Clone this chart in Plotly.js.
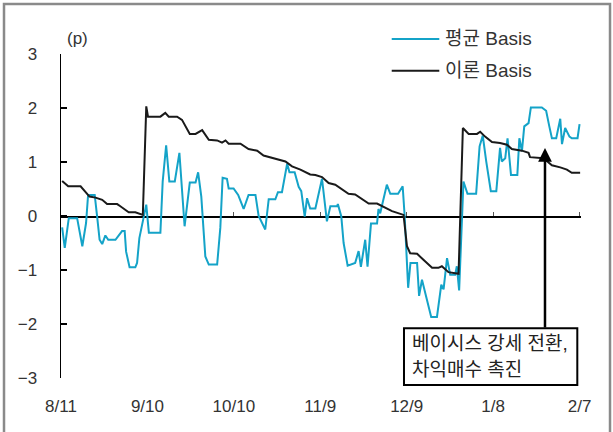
<!DOCTYPE html>
<html>
<head>
<meta charset="utf-8">
<script src="https://cdn.plot.ly/plotly-3.0.1.min.js"></script>
<style>
  html, body { margin: 0; padding: 0; background: #fff; }
  #chart { width: 613px; height: 432px; }
</style>
</head>
<body>
<div id="chart"></div>
<script>
// ---- Data (days since 8/11, values in points) ----
const tickDays   = [0, 30, 60, 90, 120, 150, 180];
const tickLabels = ['8/11', '9/10', '10/10', '11/9', '12/9', '1/8', '2/7'];
const yTicks     = [-3, -2, -1, 0, 1, 2, 3];

const seriesNames = ['평균 Basis', '이론 Basis'];

// 평균 Basis (average basis)
const avgDays = [0.4,1.3,2.7,5.6,7.4,8.7,9.4,11.7,12.6,13.4,14.3,15.4,16.4,18.9,21.2,22.1,22.6,23.8,25.8,26.4,27.2,28.4,29.6,30.5,34.5,35.3,36.5,37.6,39.5,41.1,42.9,44.7,46.7,47.6,48.7,50.1,51.3,54.2,55.3,56.1,57.6,58.2,59.9,61.5,63.4,65.1,67.5,68.6,69.8,70.9,72.1,74.4,75.3,76.7,78.5,79.3,81.1,82.5,83.4,84.6,85.4,86.5,88.3,90.6,92.3,93.5,95.8,96.1,97.3,98.1,99.5,102.1,103.3,104.1,105.6,106.4,107.6,109.7,110.2,110.8,113.1,114.3,117.0,118.6,119.3,120.5,121.3,123.6,124.3,125.3,128.5,130.5,132.0,132.8,134.0,135.1,136.8,137.4,138.2,139.7,141.1,144.1,145.3,146.4,147.6,149.2,151.1,152.4,153.0,154.2,155.0,156.2,158.4,159.1,160.0,160.8,162.3,163.1,166.9,168.4,169.5,170.4,171.9,173.3,173.9,175.0,176.5,177.3,179.3,180.0];
const avgBasis = [-0.21,-0.59,-0.04,-0.04,-0.56,-0.13,0.39,0.39,-0.04,-0.44,-0.52,-0.36,-0.44,-0.44,-0.28,-0.28,-0.66,-0.95,-0.95,-0.87,-0.41,-0.10,0.21,-0.31,-0.31,0.64,1.31,0.64,0.64,1.17,-0.19,0.62,0.62,0.81,0.36,-0.75,-0.90,-0.90,-0.22,0.71,0.69,0.51,0.51,0.39,0.13,0.39,0.39,0.00,-0.13,-0.25,0.31,0.31,0.44,0.44,0.97,0.81,0.81,0.54,0.46,-0.01,0.33,0.14,0.14,0.69,-0.10,0.18,0.18,0.22,-0.01,-0.50,-0.92,-0.87,-0.65,-0.94,-0.44,-0.94,-0.14,-0.14,0.13,0.05,0.58,0.41,0.41,0.55,-0.01,-1.33,-0.87,-0.87,-1.48,-1.18,-1.87,-1.87,-1.27,-1.36,-0.78,-1.09,-1.09,-0.93,-1.38,0.64,0.41,0.41,1.29,1.49,1.01,0.46,0.46,1.26,1.01,1.07,1.44,0.76,0.76,1.44,1.20,1.66,1.72,2.01,2.01,1.95,1.66,1.44,1.44,1.80,1.33,1.63,1.47,1.44,1.44,1.70];

// 이론 Basis (theoretical basis)
const theoryDays = [0.4,2.5,6.8,9.1,9.9,12.0,14.3,16.0,19.5,20.6,23.5,25.8,27.4,28.4,29.6,30.2,34.5,36.2,37.4,40.3,42.0,43.2,44.7,46.7,49.0,51.3,54.2,55.9,57.1,58.2,62.3,65.1,68.1,70.3,74.4,77.9,80.2,83.1,86.5,88.3,90.6,92.9,95.2,97.5,99.8,102.1,104.5,106.8,109.7,112.6,114.9,118.9,120.1,121.2,123.6,125.8,128.8,131.0,132.2,134.5,138.0,139.5,141.5,144.4,145.5,147.2,149.6,152.4,154.8,156.5,160.0,162.3,162.8,167.5,170.4,173.3,175.6,177.3,180.2];
const theoryBasis = [0.65,0.55,0.55,0.41,0.36,0.34,0.30,0.22,0.22,0.18,0.07,0.07,0.03,0.02,2.03,1.84,1.84,1.91,1.84,1.84,1.78,1.66,1.52,1.52,1.59,1.41,1.40,1.36,1.40,1.34,1.34,1.24,1.21,1.12,1.06,1.01,0.92,0.86,0.77,0.76,0.72,0.61,0.58,0.50,0.41,0.40,0.31,0.23,0.23,0.15,0.09,0.02,-0.56,-0.69,-0.70,-0.81,-0.96,-0.96,-0.93,-1.04,-1.07,1.63,1.52,1.52,1.56,1.47,1.37,1.35,1.32,1.24,1.21,1.17,1.09,1.07,0.94,0.90,0.86,0.80,0.80];

const unitLabel = '(p)';
const noteLines = ['베이시스 강세 전환,', '차익매수 촉진'];
const arrowTarget = {day: 168.0, value: 1.26};

// ---- Styles ----
const CYAN = '#14a3c8';
const BLACK = '#1a1a1a';
const TXT = '#333333';
const LATIN = 'Liberation Sans, Arial, Noto Sans CJK KR, sans-serif';
const xRange = [0, 180.5];

const traces = [
  {x: avgDays, y: avgBasis, name: seriesNames[0], type: 'scatter', mode: 'lines',
   line: {color: CYAN, width: 2}, showlegend: false, hoverinfo: 'skip'},
  {x: theoryDays, y: theoryBasis, name: seriesNames[1], type: 'scatter', mode: 'lines',
   line: {color: BLACK, width: 2}, showlegend: false, hoverinfo: 'skip'},
  {x: [], y: [], xaxis: 'x2', yaxis: 'y', type: 'scatter', mode: 'lines',
   showlegend: false, hoverinfo: 'skip'}
];

const layout = {
  width: 613, height: 432,
  margin: {l: 61, r: 32, t: 54, b: 54},
  paper_bgcolor: '#ffffff', plot_bgcolor: '#ffffff',
  showlegend: false,
  xaxis: {
    range: xRange, tickmode: 'array', tickvals: tickDays, ticktext: tickLabels,
    showline: false, showgrid: false, zeroline: false, ticks: '',
    ticklabelstandoff: 16,
    tickfont: {family: LATIN, size: 17, color: TXT}
  },
  xaxis2: {
    overlaying: 'x', anchor: 'free', position: 0.5, range: xRange,
    tickmode: 'array', tickvals: tickDays, showticklabels: false,
    showline: true, linecolor: '#000', linewidth: 1.5,
    ticks: 'inside', ticklen: 4, tickwidth: 1.2, tickcolor: '#555',
    showgrid: false, zeroline: false, layer: 'below traces'
  },
  yaxis: {
    range: [-3, 3], tickmode: 'array', tickvals: yTicks,
    showline: true, linecolor: '#000', linewidth: 1.5,
    ticks: 'inside', ticklen: 6, tickwidth: 1.5, tickcolor: '#000',
    showgrid: false, zeroline: false,
    ticklabelstandoff: 19,
    tickfont: {family: LATIN, size: 17, color: TXT}
  },
  shapes: [
    // outer frame
    {type: 'rect', xref: 'paper', yref: 'paper', x0: -0.1096, x1: 1.0558, y0: -0.25, y1: 1.1543,
     line: {color: '#8a8a8a', width: 2.5}, fillcolor: 'rgba(0,0,0,0)'},
    // legend samples
    {type: 'line', xref: 'paper', yref: 'paper', x0: 0.636, x1: 0.7275, y0: 1.0463, y1: 1.0463,
     line: {color: CYAN, width: 2}},
    {type: 'line', xref: 'paper', yref: 'paper', x0: 0.636, x1: 0.7275, y0: 0.9485, y1: 0.9485,
     line: {color: BLACK, width: 2}},
    // note box
    {type: 'rect', xref: 'paper', yref: 'paper', x0: 0.6596, x1: 0.9929, y0: -0.0216, y1: 0.1534,
     line: {color: '#000', width: 2}, fillcolor: '#ffffff'}
  ],
  annotations: [
    {xref: 'paper', yref: 'paper', x: 0.7346, y: 1.0463, xanchor: 'left', yanchor: 'middle',
     text: seriesNames[0], showarrow: false, font: {family: LATIN, size: 19, color: TXT}},
    {xref: 'paper', yref: 'paper', x: 0.7346, y: 0.9485, xanchor: 'left', yanchor: 'middle',
     text: seriesNames[1], showarrow: false, font: {family: LATIN, size: 19, color: TXT}},
    {xref: 'paper', yref: 'paper', x: 0.0317, y: 1.0463, xanchor: 'center', yanchor: 'middle',
     text: unitLabel, showarrow: false, font: {family: LATIN, size: 17, color: TXT}},
    {xref: 'paper', yref: 'paper', x: 0.6712, y: 0.1071, xanchor: 'left', yanchor: 'middle',
     text: noteLines[0], showarrow: false, font: {family: LATIN, size: 19, color: '#222'}},
    {xref: 'paper', yref: 'paper', x: 0.6712, y: 0.0247, xanchor: 'left', yanchor: 'middle',
     text: noteLines[1], showarrow: false, font: {family: LATIN, size: 19, color: '#222'}},
    {xref: 'x', yref: 'y', x: arrowTarget.day, y: arrowTarget.value, text: '',
     showarrow: true, axref: 'pixel', ayref: 'pixel', ax: 0, ay: 181,
     arrowhead: 2, arrowsize: 1.1, arrowwidth: 2.5, arrowcolor: '#000', standoff: 0}
  ]
};

Plotly.newPlot('chart', traces, layout, {staticPlot: true, displayModeBar: false});
</script>
</body>
</html>
